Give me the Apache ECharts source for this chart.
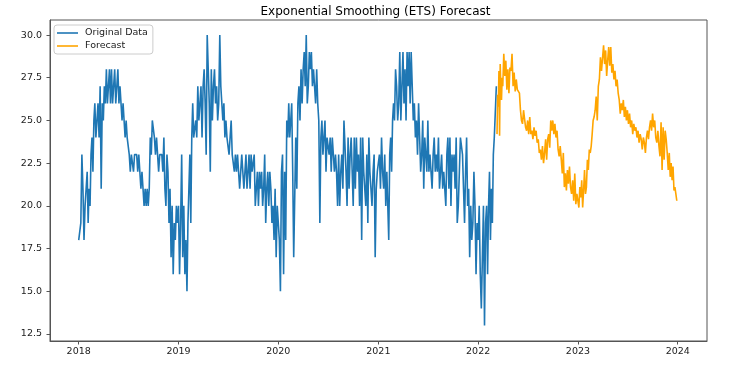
<!DOCTYPE html>
<html><head><meta charset="utf-8">
<script src="https://cdn.jsdelivr.net/npm/echarts@6/dist/echarts.min.js"></script>
<style>html,body{margin:0;padding:0;background:#fff}#c{width:751px;height:370px}</style>
</head><body><div id="c"></div>
<script>
const chartTitle = 'Exponential Smoothing (ETS) Forecast';
const seriesNames = ['Original Data', 'Forecast'];
const yTicks = [12.5, 15, 17.5, 20, 22.5, 25, 27.5, 30];
const xTickYears = [2018, 2019, 2020, 2021, 2022, 2023, 2024];

// Original data: one group of readings per month, starting Jan 2018; last group covers 1-10 Mar 2022
const originalStart = [2018, 0, 1];
const originalEndDay = 10;
const originalMonthly = [
  [18,18,19,23,21,18,20,21],[22,19,21,20,23,24,22,25],[26,24,25,26,24,27,21,26],[25,27,26,28,26,27,28,26],
  [28,26,27,28,26,27,28,26],[27,26,25,26,25,24,25,24],[24,23,22,23,23,22,23,23],[23,22,23,22,21,22,21,20],
  [21,20,21,20,21,24,23,25],[25,24,23,24,23,22,23,23],[23,22,24,21,20,23,22,19],[21,17,20,16,19,18,20,19],
  [20,16,19,23,17,20,16,18],[15,19,21,23,19,24,26,24],[24,25,24,27,25,26,27,24],[27,28,26,23,30,28,26,22],
  [28,25,27,28,26,27,25,26],[30,27,26,25,26,24,25,24],[24,23,24,25,23,23,22,23],[22,23,22,21,22,23,22,21],
  [22,23,21,22,23,21,23,22],[22,23,20,21,22,20,22,21],[22,20,21,23,19,21,22,20],[22,21,19,20,18,21,17,20],
  [20,18,15,22,23,16,22,18],[25,24,26,24,25,26,22,17],[17,24,21,26,27,25,28,26],[28,29,27,30,26,27,29,28],
  [29,27,28,27,26,28,26,25],[19,24,25,23,24,25,22,24],[24,23,24,22,24,23,22,23],[22,20,23,20,22,23,21,25],
  [25,22,20,24,21,23,24,22],[20,24,21,24,22,23,20,24],[18,24,22,21,20,23,19,24],[22,21,20,22,23,17,21,22],
  [22,23,21,24,22,21,23,20],[22,20,18,23,24,22,25,26],[25,28,27,25,26,29,25,27],[29,26,28,25,29,27,29,26],
  [29,27,25,26,24,25,23,26],[24,22,23,25,21,24,23,22],[25,22,23,22,21,23,24,22],[23,22,24,21,22,23,21,22],
  [22,20,23,24,21,24,20,23],[22,23,21,24,19,20,22,24],[24,23,21,19,22,24,20,21],[17,20,18,19,22,20,16,19],
  [18,20,16,14,17,20,13,19],[20,16,20,22,18,21,19,23],[24,25,26,27]
];

// Forecast: groups per month starting 11 Mar 2022, ending 31 Dec 2023
const forecastStart = [2022, 2, 11];
const forecastEndDay = 31;
const forecastMonthly = [
  [24.2,26.5,25.8,27.9,24.1,28.3,26.9,26.2,27.5],
  [27.0,28.9,27.6,28.5,26.8,28.0,26.6,28.1],
  [27.9,28.9,27.0,27.8,26.7,27.4,26.8,26.9],
  [26.6,25.6,25.0,24.8,25.6,25.1,24.6,24.4],
  [25.0,24.2,25.2,24.2,24.4,23.9,24.6,24.1],
  [24.4,23.7,23.9,23.1,23.3,22.7,23.5,22.5],
  [23.1,23.9,22.7,23.9,24.2,23.4,25.0,24.4],
  [25.0,24.2,24.8,24.0,24.4,23.3,22.9,23.5],
  [22.7,21.9,23.1,21.1,21.9,20.9,22.1,21.3],
  [22.3,21.1,20.7,21.5,20.3,21.9,20.1,20.7],
  [20.7,19.9,21.1,20.5,21.5,19.9,20.9,22.1,20.7],
  [21.1,22.7,22.1,23.3,23.1,23.5,24.2,25.0],
  [25.2,25.6,26.4,25.0,27.0,27.4,28.7,27.9],
  [27.9,29.4,28.3,29.1,27.6,28.5,29.3,28.2],
  [29.3,27.8,28.3,27.4,27.9,27.0,27.4,26.6],
  [26.2,25.4,26.0,25.6,26.2,25.2,25.8,25.0],
  [25.6,24.8,25.4,24.6,25.0,24.2,24.8,24.4],
  [24.6,24.0,24.4,23.7,24.2,23.9,23.3,24.0],
  [23.7,23.1,24.0,24.4,23.9,24.6,25.0,24.4],
  [25.4,24.6,25.0,24.0,23.7,24.4,23.5,22.9],
  [24.9,22.1,24.6,22.7,24.4,23.9,23.1,22.1],
  [23.1,21.7,22.5,21.5,22.3,20.9,21.1,20.7,20.3]
];

const DAY = 86400000;
function build(start, endDay, monthly) {
  const out = [];
  monthly.forEach((vals, i) => {
    const mi = start[1] + i;
    const y = start[0] + Math.floor(mi / 12), m = mi % 12;
    const dim = new Date(Date.UTC(y, m + 1, 0)).getUTCDate();
    const s = i === 0 ? start[2] - 1 : 0;
    const e = i === monthly.length - 1 ? endDay : dim;
    vals.forEach((v, j) => {
      out.push([Date.UTC(y, m, 1) + (s + j * (e - s) / vals.length) * DAY, v]);
    });
  });
  return out;
}
const originalData = build(originalStart, originalEndDay, originalMonthly);
const forecastData = build(forecastStart, forecastEndDay, forecastMonthly);
const xTickValues = xTickYears.map(y => Date.UTC(y, 0, 1));

const axisColor = '#555';
const textColor = '#222';
const font = 'DejaVu Sans';

const chart = echarts.init(document.getElementById('c'), null, {renderer: 'canvas'});
chart.setOption({
  animation: false,
  backgroundColor: '#fff',
  title: {
    text: chartTitle, left: 'center', top: 1,
    textStyle: {fontFamily: font, fontSize: 12, fontWeight: 'normal', color: '#000'}
  },
  legend: {
    data: seriesNames, orient: 'vertical', left: 54, top: 25,
    icon: 'rect', itemWidth: 21, itemHeight: 1.6, itemGap: 3,
    padding: [3, 5, 3, 3],
    backgroundColor: 'rgba(255,255,255,0.8)', borderColor: '#ccc', borderWidth: 1, borderRadius: 3,
    textStyle: {fontFamily: font, fontSize: 9.5, color: textColor, padding: [0, 0, 0, 2]}
  },
  grid: {left: 50, right: 44, top: 20, bottom: 29, show: true, borderColor: axisColor, borderWidth: 1},
  xAxis: {
    type: 'value',
    min: Date.UTC(2018, 0, 1) - 105 * DAY,
    max: Date.UTC(2024, 0, 1) + 107 * DAY,
    splitLine: {show: false},
    axisLine: {show: true, lineStyle: {color: axisColor}},
    axisTick: {show: true, length: 3.5, lineStyle: {color: axisColor}, customValues: xTickValues},
    axisLabel: {
      customValues: xTickValues,
      formatter: v => String(new Date(v).getUTCFullYear()),
      fontFamily: font, fontSize: 9.5, color: textColor, margin: 6
    }
  },
  yAxis: {
    type: 'value', min: 12.09, max: 30.88,
    splitLine: {show: false},
    axisLine: {show: true, lineStyle: {color: axisColor}},
    axisTick: {show: true, length: 3.5, lineStyle: {color: axisColor}, customValues: yTicks},
    axisLabel: {
      customValues: yTicks,
      formatter: v => Number(v).toFixed(1),
      fontFamily: font, fontSize: 9.5, color: textColor, margin: 8
    }
  },
  series: [
    {name: seriesNames[0], type: 'line', data: originalData, showSymbol: false, symbol: 'none',
     color: '#1f77b4', lineStyle: {width: 1.6, color: '#1f77b4'}, z: 2},
    {name: seriesNames[1], type: 'line', data: forecastData, showSymbol: false, symbol: 'none',
     color: '#ffa500', lineStyle: {width: 1.6, color: '#ffa500'}, z: 3}
  ]
});
</script>
</body></html>
